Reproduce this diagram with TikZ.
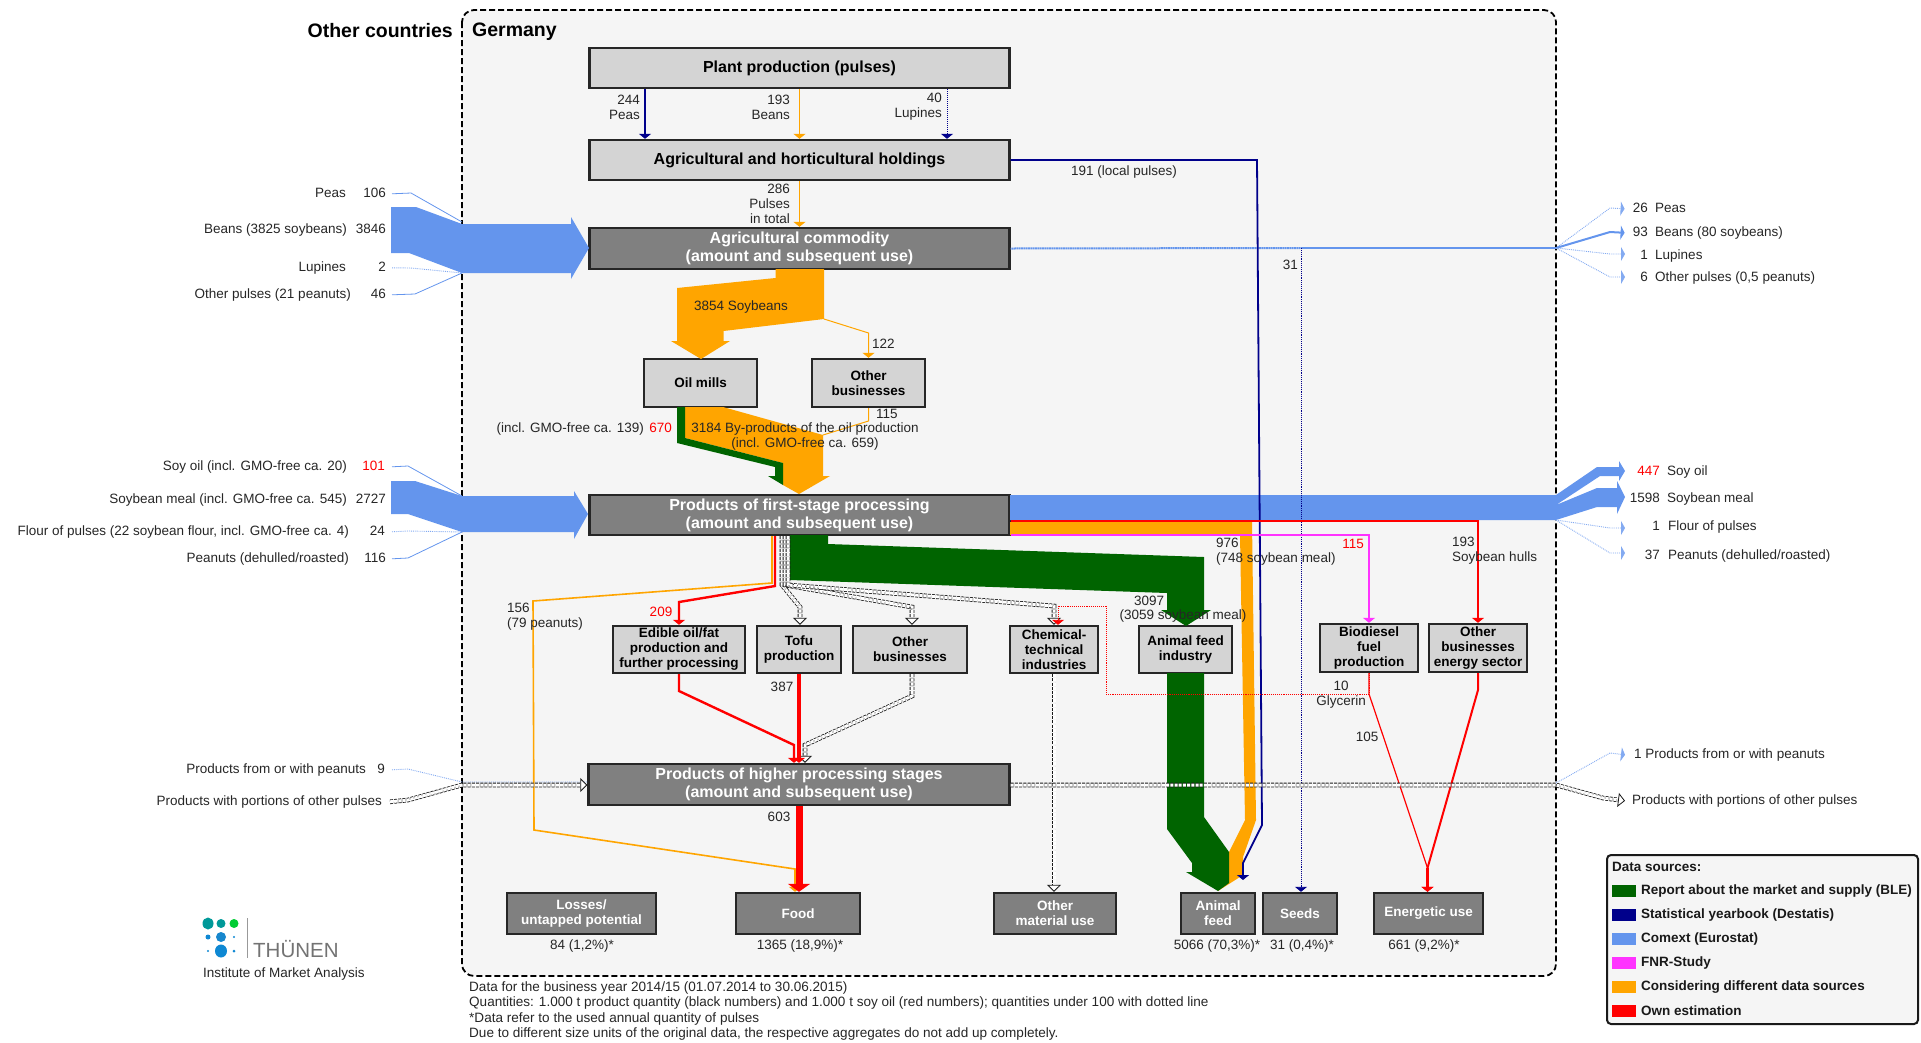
\documentclass[tikz,border=0pt]{standalone}
\usepackage{fontspec}
\setmainfont{Liberation Sans}
\usetikzlibrary{arrows.meta}
\definecolor{flowblue}{HTML}{6495ED}
\definecolor{flownavy}{HTML}{00008B}
\definecolor{flowgreen}{HTML}{006400}
\definecolor{floworange}{HTML}{FFA500}
\definecolor{flowpink}{HTML}{FF33FF}
\definecolor{flowred}{HTML}{FF0000}
\definecolor{panelgrey}{HTML}{F5F5F5}
\newcommand{\fsm}{\fontsize{13.5}{15}\selectfont}
\newcommand{\fsb}{\fontsize{13.5}{15}\selectfont\bfseries}
\newcommand{\fmd}{\fontsize{16}{18}\selectfont\bfseries}
\tikzset{>={Triangle[width=12pt,length=5pt]},
  x=1pt,y=-1pt,
  lightbox/.style={draw=black!85,line width=2.4pt,fill=black!17,inner sep=0pt,
    align=center,font=\fsb},
  darkbox/.style={lightbox,fill=black!50,text=white},
  mlbl/.style={font=\fsm,inner sep=0pt,text=black!85,align=center},
  lbl/.style={mlbl,text height=10pt,text depth=3pt,yshift=-.8pt},
  redlbl/.style={lbl,text=flowred},
  swatch/.style={minimum width=24pt,minimum height=11.5pt,inner sep=0pt},
  legendlbl/.style={font=\fsb,inner sep=0pt,anchor=west,text=black!90},
  blueline/.style={flowblue,line width=.8pt},
  bluedot/.style={flowblue!80,line width=.9pt,densely dotted},
  exptip/.style={>={Triangle[width=14pt,length=4pt]}},
  dblflow/.style={double=white,double distance=3pt,line width=.8pt,
    dash pattern=on 3pt off 1.2pt,black!90,
    >={Triangle[open,fill=white,width=14pt,length=7pt,line width=.8pt]}},
  redflow/.style={flowred,line width=2.4pt}}
\begin{document}
\begin{tikzpicture}
  \useasboundingbox (0,0) rectangle (1921,1042);
  \draw [fill=panelgrey,line width=1.8pt,rounded corners=12pt,
    dash pattern=on 6pt off 3pt] (462,10) rectangle (1556,976);
  \node [font=\fontsize{19.5}{22}\selectfont\bfseries,inner sep=0pt,anchor=east] (othercountries) at (453,31) {Other countries};
  \node [font=\fontsize{19.5}{22}\selectfont\bfseries,inner sep=0pt,anchor=west] (germany) at (472,32) {Germany};

  \node [lightbox,font=\fmd,minimum width=420pt,minimum height=40pt] (plant) at (799.5,68) {Plant production (pulses)};
  \node [lightbox,font=\fmd,minimum width=420pt,minimum height=40pt] (holdings) at (799.5,160) {Agricultural and horticultural holdings};
  \node [darkbox,font=\fmd,minimum width=420pt,minimum height=41pt] (commodity) at (799.5,248.5) {Agricultural commodity\\(amount and subsequent use)};
  \node [lightbox,minimum width=113pt,minimum height=48pt] (oilmills) at (700.5,383) {Oil mills};
  \node [lightbox,minimum width=113pt,minimum height=48pt] (otherbiz) at (868.5,383) {Other\\businesses};
  \node [darkbox,font=\fmd,minimum width=420pt,minimum height=40pt] (firststage) at (799.5,515) {Products of first-stage processing\\(amount and subsequent use)};
  \node [lightbox,minimum width=132pt,minimum height=47pt] (edible) at (679,649.5) {Edible oil/fat\\production and\\further processing};
  \node [lightbox,minimum width=84pt,minimum height=47pt] (tofu) at (799,649.5) {Tofu\\production};
  \node [lightbox,minimum width=114pt,minimum height=47pt] (otherbizb) at (910,649.5) {Other\\businesses};
  \node [lightbox,minimum width=88pt,minimum height=47pt] (chemical) at (1054,649.5) {Chemical-\\technical\\industries};
  \node [lightbox,minimum width=93pt,minimum height=47pt] (feedind) at (1185.5,649.5) {Animal feed\\industry};
  \node [lightbox,minimum width=98pt,minimum height=48pt] (biodiesel) at (1369,648) {Biodiesel\\fuel\\production};
  \node [lightbox,minimum width=98pt,minimum height=48pt] (energybiz) at (1478,648) {Other\\businesses\\energy sector};
  \node [darkbox,font=\fmd,minimum width=421pt,minimum height=41pt] (higher) at (799,784.5) {Products of higher processing stages\\(amount and subsequent use)};
  \node [darkbox,minimum width=149pt,minimum height=41pt] (losses) at (581.5,913.5) {Losses/\\untapped potential};
  \node [darkbox,minimum width=124pt,minimum height=41pt] (food) at (798,913.5) {Food};
  \node [darkbox,minimum width=122pt,minimum height=41pt] (material) at (1055,913.5) {Other\\material use};
  \node [darkbox,minimum width=74pt,minimum height=41pt] (animalfeed) at (1218,913.5) {Animal\\feed};
  \node [darkbox,minimum width=74pt,minimum height=41pt] (seeds) at (1300,913.5) {Seeds};
  \node [darkbox,minimum width=109pt,minimum height=41pt] (energetic) at (1428.5,913.5) {Energetic use};

  \fill [flowblue] (391,207) -- (416,207) -- (462,224) -- (571,224) -- (571,217) -- (589,248)
    -- (571,279) -- (571,273) -- (462,273) -- (409,253) -- (391,253) -- cycle;
  \fill [flowblue] (391,481) -- (415,481) -- (462,496) -- (574,496) -- (574,491) -- (588,514)
    -- (574,539) -- (574,532) -- (462,532) -- (408,514) -- (391,514) -- cycle;
  \fill [flowblue] (1010,495) -- (1556,495) -- (1597,467) -- (1619,467) -- (1619,461) -- (1625,471)
    -- (1619,481) -- (1619,476) -- (1600,476) -- (1556,505) -- (1597,488) -- (1617,488) -- (1617,481)
    -- (1625,497) -- (1617,514) -- (1617,507) -- (1597,507) -- (1556,520) -- (1010,520) -- cycle;
  \fill [floworange] (775.5,269) -- (824,269) -- (824,319) -- (723.5,331) -- (723.5,341) -- (730,341)
    -- (701,359) -- (671,341) -- (677,341) -- (677,288) -- (775.5,278) -- cycle;
  \fill [floworange] (685,407) -- (723,407) -- (823,435) -- (823,476) -- (830,476) -- (799,494)
    -- (783,485) -- (783,463) -- (685,438) -- cycle;
  \fill [flowgreen] (677,407) -- (685,407) -- (685,438) -- (783,463) -- (783,485) -- (768,476)
    -- (775,476) -- (775,467) -- (677,443) -- cycle;
  \fill [floworange] (1010,522) -- (1252,522) -- (1256,820) -- (1243,857) -- (1243,875) -- (1218,891)
    -- (1229,852) -- (1245,820) -- (1240,535) -- (1010,535) -- cycle;
  \fill [flowgreen] (790,535) -- (828,535) -- (828,544) -- (1204,557) -- (1204,610) -- (1211,610)
    -- (1186,626) -- (1161,610) -- (1167,610) -- (1167,593) -- (790,580) -- cycle;
  \fill [flowgreen] (1167,673) -- (1204,673) -- (1204,817) -- (1229,852) -- (1229,883) -- (1218,891)
    -- (1186,872) -- (1192,872) -- (1192,863) -- (1167,829) -- cycle;

  \node [lbl,anchor=east] (inpeas) at (346,193) {Peas};
  \node [lbl,anchor=east] (npeas) at (386,193) {106};
  \node [lbl,anchor=east] (inbeans) at (347,229.5) {Beans (3825 soybeans)};
  \node [lbl,anchor=east] (nbeans) at (386,229.5) {3846};
  \node [lbl,anchor=east] (inlup) at (346,267) {Lupines};
  \node [lbl,anchor=east] (nlup) at (386,267) {2};
  \node [lbl,anchor=east] (inpulse) at (351,294) {Other pulses (21 peanuts)};
  \node [lbl,anchor=east] (npulse) at (386,294) {46};
  \node [lbl,anchor=east] (insoy) at (347,466) {Soy oil (incl. GMO-free ca. 20)};
  \node [redlbl,anchor=east] (nsoy) at (385,466) {101};
  \node [lbl,anchor=east] (inmeal) at (347,499) {Soybean meal (incl. GMO-free ca. 545)};
  \node [lbl,anchor=east] (nmeal) at (386,499) {2727};
  \node [lbl,anchor=east] (influr) at (349,531) {Flour of pulses (22 soybean flour, incl. GMO-free ca. 4)};
  \node [lbl,anchor=east] (nflur) at (385,531) {24};
  \node [lbl,anchor=east] (innut) at (349,558) {Peanuts (dehulled/roasted)};
  \node [lbl,anchor=east] (nnut) at (386,558) {116};
  \node [lbl,anchor=east] (inprod) at (366,769) {Products from or with peanuts};
  \node [lbl,anchor=east] (nprod) at (385,769) {9};
  \node [lbl,anchor=east] (inport) at (382,801) {Products with portions of other pulses};

  \node [lbl,anchor=east] (expa) at (1648,208) {26};
  \node [lbl,anchor=west] (expaa) at (1655,208) {Peas};
  \node [lbl,anchor=east] (expb) at (1648,232) {93};
  \node [lbl,anchor=west] (expbb) at (1655,232) {Beans (80 soybeans)};
  \node [lbl,anchor=east] (expc) at (1648,255) {1};
  \node [lbl,anchor=west] (expcc) at (1655,255) {Lupines};
  \node [lbl,anchor=east] (expd) at (1648,277) {6};
  \node [lbl,anchor=west] (expdd) at (1655,277) {Other pulses (0,5 peanuts)};
  \node [redlbl,anchor=east] (expe) at (1660,471) {447};
  \node [lbl,anchor=west] (expee) at (1667,471) {Soy oil};
  \node [lbl,anchor=east] (expf) at (1660,498) {1598};
  \node [lbl,anchor=west] (expff) at (1667,498) {Soybean meal};
  \node [lbl,anchor=east] (expg) at (1660,526) {1};
  \node [lbl,anchor=west] (expgg) at (1668,526) {Flour of pulses};
  \node [lbl,anchor=east] (exph) at (1660,555) {37};
  \node [lbl,anchor=west] (exphh) at (1668,555) {Peanuts (dehulled/roasted)};
  \node [lbl,anchor=west] (expi) at (1634,754) {1 Products from or with peanuts};
  \node [lbl,anchor=west] (expj) at (1632,800) {Products with portions of other pulses};

  \draw [blueline] ([xshift=6pt]npeas.east) -- (411,193) -- (462,222);
  \draw [bluedot] ([xshift=6pt]nlup.east) -- (411,268) -- (462,273);
  \draw [blueline] ([xshift=6pt]npulse.east) -- (415,294) -- (462,273);
  \draw [blueline] ([xshift=7pt]nsoy.east) -- (408,466) -- (462,496);
  \draw [bluedot] ([xshift=7pt]nflur.east) -- (408,531) -- (462,532);
  \draw [blueline] ([xshift=6pt]nnut.east) -- (408,558) -- (462,532);
  \draw [bluedot] ([xshift=7pt]nprod.east) -- (408,769) -- (462,782) -- (higher.west |- 0,782);

  \coordinate (splitcom) at (1556,248);
  \coordinate (splitcomb) at (1301,248);
  \coordinate (splitfirst) at (1556,520);
  \coordinate (splithigh) at (1556,783);
  \draw [flowblue,line width=2pt,dash pattern=on 1pt off .4pt] (commodity.east) -- (splitcomb);
  \draw [flowblue,line width=1.2pt] (splitcomb) -- (splitcom);
  \draw [exptip,->,bluedot] (splitcom) -- (1610,208) -- ([xshift=-8pt]expa.west);
  \draw [exptip,->,flowblue,line width=2pt] (splitcom) -- (1610,232) -- ([xshift=-8pt]expb.west);
  \draw [exptip,->,bluedot] (splitcom) -- (1610,254) -- (1625,254);
  \draw [exptip,->,bluedot] (splitcom) -- (1610,277) -- (1625,277);
  \draw [exptip,->,bluedot] (splitfirst) -- (1610,528) -- (1625,528);
  \draw [exptip,->,bluedot] (splitfirst) -- (1610,553) -- (1625,553);
  \draw [exptip,->,bluedot] (splithigh) -- (1610,753) -- ([xshift=-9pt]expi.west);

  \draw [->,flownavy,line width=2.6pt] (plant.south -| 645,0) -- (holdings.north -| 645,0);
  \draw [->,floworange,line width=1.4pt] (plant.south) -- (holdings.north);
  \draw [->,flownavy,densely dotted,line width=1pt] (plant.south -| 947,0) -- (holdings.north -| 947,0);
  \draw [->,floworange,line width=1.8pt] (holdings.south) -- (commodity.north);
  \draw [->,flownavy,line width=1.8pt] (holdings.east) -- (1257,160) -- (1262,825) -- (1243,863) -- (1243,880);
  \draw [->,flownavy,densely dotted,line width=.9pt] (splitcomb) -- (seeds.north -| splitcomb);
  \draw [->,floworange,line width=1pt] (824,319) -- (868.5,333) -- (otherbiz.north);
  \draw [floworange,line width=1pt] (otherbiz.south) -- (868.5,421) -- (823,435);

  \draw [->,flowpink,line width=2pt] (firststage.east |- 0,535) -- (1369,535) -- (biodiesel.north);
  \draw [->,flowred,line width=2pt] (firststage.east |- 0,521) -- (1478,521) -- (energybiz.north);
  \draw [->,floworange,line width=1.6pt] (firststage.south -| 772,0) -- (772,583) -- (533,601) -- (534,830) -- (795,869) -- (food.north -| 795,0);
  \draw [->,redflow] (firststage.south -| 775,0) -- (775,586) -- (679,602) -- (edible.north);
  \draw [dblflow,->] (firststage.south -| 782,0) -- (782,585) -- (800,607) -- (tofu.north -| 800,0);
  \draw [dblflow,->] (firststage.south -| 785,0) -- (785,585) -- (912,607) -- (otherbizb.north -| 912,0);
  \draw [dblflow,->] (firststage.south -| 788,0) -- (788,585) -- (1054,606) -- (chemical.north);
  \draw [dblflow,->] (chemical.south) -- (material.north -| chemical.south);
  \draw [dblflow,->] (otherbizb.south -| 912,0) -- (912,696) -- (805,745) -- (higher.north -| 805,0);
  \draw [->,redflow] (edible.south) -- (679,691) -- (794,745) -- (higher.north -| 794,0);
  \draw [->,flowred,line width=4pt] (tofu.south) -- (higher.north -| tofu.south);
  \draw [->,flowred,line width=7pt,>={Triangle[width=22pt,length=8pt]}] (higher.south) -- (food.north -| higher.south);
  \draw [->,flowred,densely dotted,line width=.9pt] (biodiesel.south) -- (1369,694) -- (1106,694) -- (1106,606) -- (1058,606) -- (chemical.north -| 1058,0);
  \draw [->,flowred,line width=1.2pt] (biodiesel.south) -- (1369,694) -- (1427.5,868) -- (energetic.north -| 1427.5,0);
  \draw [flowred,line width=2pt] (energybiz.south) -- (1478,690) -- (1427.5,868);
  \draw [->,flowred,line width=3pt] (1427.5,868) -- (energetic.north -| 1427.5,0);
  \draw [dblflow,->] ([xshift=8pt]inport.east) -- (408,800) -- (462,785) -- (higher.west |- 0,785);
  \draw [dblflow,->] (higher.east |- 0,785) -- (1556,785) -- (1603,798) -- ([xshift=-7pt]expj.west);

  \node [mlbl,align=right,anchor=east] (peasflow) at (640,107) {244\\Peas};
  \node [mlbl,align=right,anchor=east] (beansflow) at (790,107) {193\\Beans};
  \node [mlbl,align=right,anchor=east] (lupflow) at (942,107) {40\\Lupines};
  \node [mlbl,align=right,anchor=east] (pulseflow) at (790,204) {286\\Pulses\\in total};
  \node [lbl,anchor=west] (localflow) at (1071,171) {191 (local pulses)};
  \node [lbl,anchor=east] (seedflow) at (1298,265) {31};
  \node [lbl] (soyflow) at (741,306) {3854 Soybeans};
  \node [lbl,anchor=west] (bizflow) at (872,344) {122};
  \node [lbl,anchor=west] (bizflowb) at (876,414) {115};
  \node [lbl,anchor=east] (gmoflow) at (644,428) {(incl. GMO-free ca. 139)};
  \node [redlbl,anchor=east] (redflow) at (672,428) {670};
  \node [mlbl] (byflow) at (805,436) {3184 By-products of the oil production\\(incl. GMO-free ca. 659)};
  \node [mlbl,align=left,anchor=west] (lossflow) at (507,616.5) {156\\(79 peanuts)};
  \node [redlbl] (oilflow) at (661,612) {209};
  \node [lbl] (tofuflow) at (782,687) {387};
  \node [lbl] (foodflow) at (779,817) {603};
  \node [mlbl,align=left,anchor=west] (mealflow) at (1216,551.5) {976\\(748 soybean meal)};
  \node [redlbl] (dieselflow) at (1353,544) {115};
  \node [mlbl,align=left,anchor=west] (hullflow) at (1452,551) {193\\Soybean hulls};
  \node [lbl] (feedflow) at (1149,601) {3097};
  \node [lbl] (feedflowb) at (1183,615) {(3059 soybean meal)};
  \node [mlbl] (glyflow) at (1341,694.5) {10\\Glycerin};
  \node [lbl] (engflow) at (1367,737) {105};
  \node [lbl] (lossnum) at (582,945) {84 (1,2\%)*};
  \node [lbl] (foodnum) at (800,945) {1365 (18,9\%)*};
  \node [lbl] (feednum) at (1217,945) {5066 (70,3\%)*};
  \node [lbl] (seednum) at (1302,945) {31 (0,4\%)*};
  \node [lbl] (engnum) at (1424,945) {661 (9,2\%)*};

  \node [inner sep=0pt,text=black!85,align=left,anchor=north west,font=\fontsize{13.55}{15.5}\selectfont] (notes) at (469,981) {Data for the business year 2014/15 (01.07.2014 to 30.06.2015)\\
    Quantities: 1.000 t product quantity (black numbers) and 1.000 t soy oil (red numbers); quantities under 100 with dotted line\\
    *Data refer to the used annual quantity of pulses\\
    Due to different size units of the original data, the respective aggregates do not add up completely.};

  \draw [fill=panelgrey,draw=black!90,line width=2pt,rounded corners=4pt] (1607,855) rectangle (1918,1024);
  \node [legendlbl] (legendhead) at (1612,867) {Data sources:};
  \node [swatch,fill=flowgreen] (keygreen) at (1624,891) {};
  \node [legendlbl] (lblgreen) at (1641,891) {Report about the market and supply (BLE)};
  \node [swatch,fill=flownavy] (keynavy) at (1624,915) {};
  \node [legendlbl] (lblnavy) at (1641,915) {Statistical yearbook (Destatis)};
  \node [swatch,fill=flowblue] (keyblue) at (1624,939) {};
  \node [legendlbl] (lblblue) at (1641,939) {Comext (Eurostat)};
  \node [swatch,fill=flowpink] (keypink) at (1624,963) {};
  \node [legendlbl] (lblpink) at (1641,963) {FNR-Study};
  \node [swatch,fill=floworange] (keyorange) at (1624,987) {};
  \node [legendlbl] (lblorange) at (1641,987) {Considering different data sources};
  \node [swatch,fill=flowred] (keyred) at (1624,1011) {};
  \node [legendlbl] (lblred) at (1641,1011) {Own estimation};

  \fill [teal!80!cyan] (208,923.5) ellipse (5.5pt and 6pt);
  \fill [teal!80!cyan] (221,923.5) circle (4.5pt);
  \fill [green!60!teal] (234,923.5) circle (4.5pt);
  \fill [cyan!70!blue] (208,937) circle (2.5pt);
  \fill [cyan!70!blue!90!teal] (221,937) circle (5pt);
  \fill [cyan!70!blue] (234,937) circle (1.2pt);
  \fill [cyan!70!blue] (208,951) circle (1.2pt);
  \fill [cyan!70!blue] (221,951) ellipse (6pt and 6.5pt);
  \fill [cyan!70!blue] (234,951) circle (1.5pt);
  \draw [black!40,line width=.6pt] (247,918) -- (247,958);
  \node [inner sep=0pt,anchor=west,font=\fontsize{20.5}{22}\selectfont,text=black!55] (thuenen) at (253,949) {THÜNEN};
  \node [lbl,anchor=west] (institute) at (203,973.5) {Institute of Market Analysis};
\end{tikzpicture}
\end{document}
